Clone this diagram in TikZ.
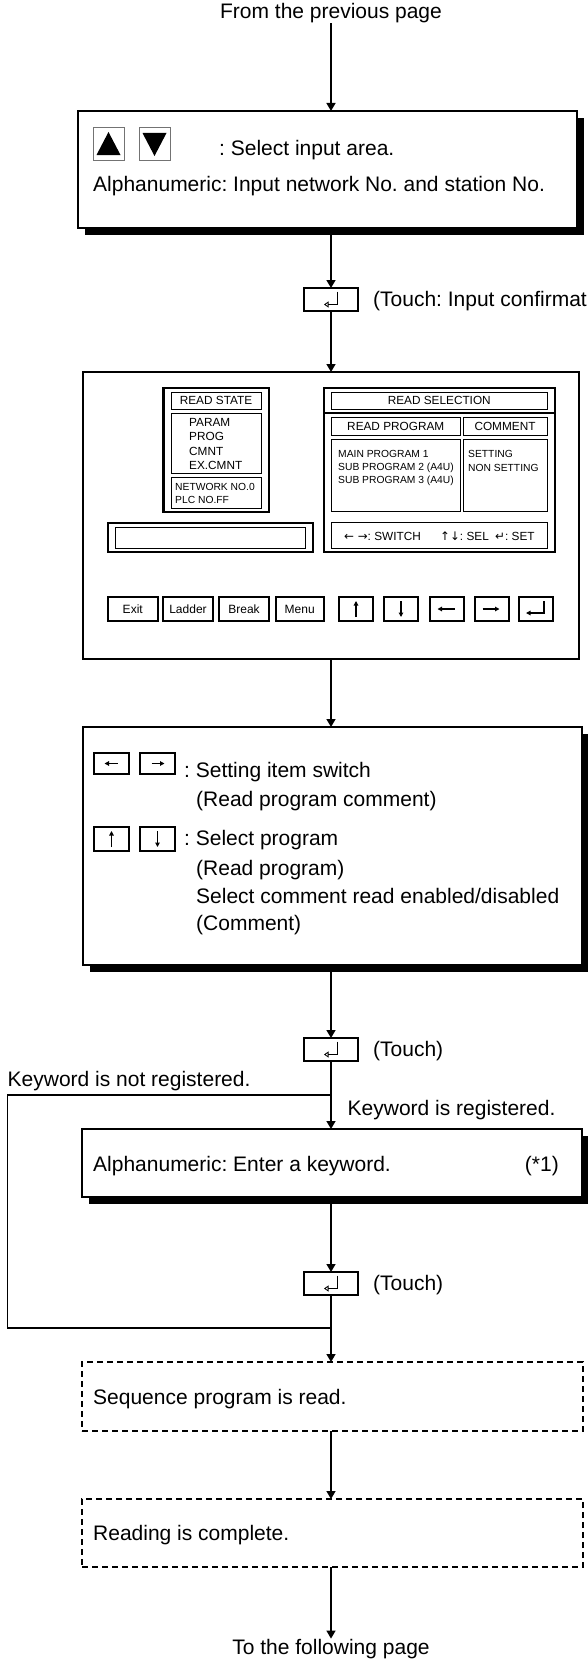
\documentclass[tikz,border=0pt]{standalone}
\usepackage{fontspec}
\setmainfont{Liberation Sans}
\newfontfamily\arrowfont{DejaVu Sans}
\usetikzlibrary{arrows.meta,positioning,shadows}
\frenchspacing

\newcommand{\bigtxt}{\fontsize{21}{25}\selectfont}
\newcommand{\hdtxt}{\fontsize{11.8}{14}\selectfont}
\newcommand{\smtxt}{\fontsize{10.3}{12.5}\selectfont}

\begin{document}
\begin{tikzpicture}[
  x=1pt, y=-1pt,
  >={Triangle[length=8pt,width=9pt]},
  flow/.style={draw, line width=1.3pt, fill=white, inner sep=0pt, outer sep=0pt,
    drop shadow={shadow xshift=7pt, shadow yshift=-7pt, fill=black, opacity=1}},
  dashbox/.style={draw, line width=1.3pt, dash pattern=on 6pt off 4pt, inner sep=0pt, outer sep=0pt},
  scrn/.style={draw, line width=1.5pt, inner sep=0pt, outer sep=0pt},
  thickbox/.style={draw, line width=2.2pt, inner sep=0pt, outer sep=0pt},
  thinbox/.style={draw, line width=0.7pt, inner sep=0pt, outer sep=0pt, font=\hdtxt},
  keybtn/.style={draw, line width=2pt, inner sep=0pt, outer sep=0pt, minimum height=24pt, font=\fontsize{12}{14}\selectfont},
  smallkey/.style={draw, line width=1.6pt, inner sep=0pt, outer sep=0pt, minimum width=35pt},
  trikey/.style={draw=black!55, line width=0.8pt, inner sep=0pt, outer sep=0pt, minimum width=31pt, minimum height=33pt},
  enterbtn/.style={draw, line width=1.2pt, minimum width=54pt, minimum height=23pt, inner sep=0pt, outer sep=0pt},
  enterglyph/.style={line width=0.9pt, -{Triangle[open,length=4.5pt,width=6pt,line width=0.8pt]}},
  txt/.style={anchor=base west, inner sep=0pt, font=\bigtxt},
  lbl/.style={anchor=base west, inner sep=0pt},
  flowline/.style={line width=1.5pt},
  keyarr/.style={line width=1.1pt, -{Triangle[length=4.5pt,width=4.5pt]}}
]
\useasboundingbox (0,0) rectangle (587,1659);

% input area selection
\node[font=\bigtxt, inner sep=0pt, anchor=base] (from) at (331,18.5) {From the previous page};
\node[flow, minimum width=499pt, minimum height=117pt] (sel) at (327.5,169.5) {};
\node[trikey] (tup) at (108.5,144) {};
\node[trikey, right=15pt of tup] (tdown) {};
\fill ([yshift=12pt]tup.center) -- ([xshift=12pt,yshift=-11pt]tup.center) -- ([xshift=-12pt,yshift=-11pt]tup.center) -- cycle;
\fill ([yshift=-12pt]tdown.center) -- ([xshift=12pt,yshift=11pt]tdown.center) -- ([xshift=-12pt,yshift=11pt]tdown.center) -- cycle;
\node[txt] (selk) at (219,155) {: Select input area.};
\node[txt] (selt) at (93,191) {Alphanumeric: Input network No. and station No.};

\node[enterbtn] (ent1) at (331,299.5) {};
\draw[enterglyph] ([xshift=6pt,yshift=8pt]ent1.center) -- ([xshift=6pt,yshift=-5pt]ent1.center) -- ([xshift=-7pt,yshift=-5pt]ent1.center);
\node[txt] (t1) at (373,306.5) {(Touch: Input confirmation)};

% screen
\node[scrn, minimum width=496pt, minimum height=287pt] (scr) at (331,515.5) {};
\node[thickbox, minimum width=105.5pt, minimum height=124pt] (rst) at (216.25,450) {};
\node[thinbox, minimum width=90pt, minimum height=17pt] (rsttl) at (216,400.5) {READ STATE};
\node[thinbox, minimum width=90pt, minimum height=60pt] (rslst) at (216,443) {};
\node[thinbox, minimum width=90pt, minimum height=31pt] (rsnet) at (216,492.5) {};
\foreach \t [count=\i] in {PARAM,PROG,CMNT,EX.CMNT}
  \node[lbl, font=\hdtxt] (rsi\i) at (189,411.5+14.5*\i) {\t};
\node[lbl, font=\smtxt] (net) at (175,490) {NETWORK NO.0};
\node[lbl, font=\smtxt] (plc) at (175,503) {PLC NO.FF};

\node[thickbox, minimum width=205pt, minimum height=29pt] (inp) at (210.5,537.5) {};
\node[thinbox, minimum width=189.5pt, minimum height=21pt] (inpi) at (210.25,537.5) {};

\node[scrn, minimum width=231pt, minimum height=164pt] (rsel) at (439.5,470) {};
\coordinate (rsline) at (0,413);
\draw[line width=1.2pt] (rsel.west |- rsline) -- (rsel.east |- rsline);
\node[thinbox, minimum width=215.5pt, minimum height=17pt] (rselttl) at (439.25,400.5) {READ SELECTION};
\node[thinbox, minimum width=128.5pt, minimum height=18pt] (rphd) at (395.75,426) {READ PROGRAM};
\node[thinbox, minimum width=84pt, minimum height=18pt] (cmhd) at (505,426) {COMMENT};
\node[thinbox, minimum width=128.5pt, minimum height=72pt] (rplst) at (395.75,475) {};
\node[thinbox, minimum width=84pt, minimum height=72pt] (cmlst) at (505,475) {};
\foreach \t [count=\i] in {MAIN PROGRAM 1,SUB PROGRAM 2 (A4U),SUB PROGRAM 3 (A4U)}
  \node[lbl, font=\smtxt] (rp\i) at (338,444+13*\i) {\t};
\node[lbl, font=\smtxt] (cm1) at (468,457) {SETTING};
\node[lbl, font=\smtxt] (cm2) at (468,471) {NON SETTING};
\node[thinbox, minimum width=215.5pt, minimum height=26pt] (rsft) at (439.25,535) {};
\node[lbl, font=\hdtxt] (ftsw) at (344,540) {{\arrowfont ← →}: SWITCH};
\node[lbl, font=\hdtxt] (ftsel) at (440,540) {{\arrowfont ↑↓}: SEL};
\node[lbl, font=\hdtxt] (ftset) at (495,540) {{\arrowfont ↵}: SET};

\node[keybtn, minimum width=49.5pt] (kexit) at (132.75,609) {Exit};
\node[keybtn, minimum width=50pt, right=5.5pt of kexit] (kladder) {Ladder};
\node[keybtn, minimum width=50pt, right=6pt of kladder] (kbreak) {Break};
\node[keybtn, minimum width=48.5pt, right=6.5pt of kbreak] (kmenu) {Menu};
\node[keybtn, minimum width=34pt, right=15pt of kmenu] (kup) {};
\node[keybtn, minimum width=34pt, right=11pt of kup] (kdown) {};
\node[keybtn, minimum width=34pt, right=11.5pt of kdown] (kleft) {};
\node[keybtn, minimum width=34pt, right=11pt of kleft] (kright) {};
\node[keybtn, minimum width=34pt, right=10.5pt of kright] (kenter) {};
\draw[keyarr] ([yshift=-8pt]kup.center) -- ([yshift=8pt]kup.center);
\draw[keyarr] ([yshift=8pt]kdown.center) -- ([yshift=-8pt]kdown.center);
\draw[keyarr] ([xshift=8pt]kleft.center) -- ([xshift=-9pt]kleft.center);
\draw[keyarr] ([xshift=-9pt]kright.center) -- ([xshift=8pt]kright.center);
\draw[keyarr, line width=1.6pt] ([xshift=8pt,yshift=8pt]kenter.center) -- ([xshift=8pt,yshift=-4pt]kenter.center) -- ([xshift=-10pt,yshift=-4pt]kenter.center);

% key explanation
\node[flow, minimum width=499pt, minimum height=238pt] (keys) at (332.5,846) {};
\node[smallkey, minimum height=21pt] (lkey) at (111.5,763.5) {};
\node[smallkey, minimum height=21pt, right=11pt of lkey] (rkey) {};
\node[smallkey, minimum height=24pt] (ukey) at (111.5,839) {};
\node[smallkey, minimum height=24pt, right=11pt of ukey] (dkey) {};
\draw[keyarr] ([xshift=6pt]lkey.center) -- ([xshift=-7pt]lkey.center);
\draw[keyarr] ([xshift=-6pt]rkey.center) -- ([xshift=7pt]rkey.center);
\draw[keyarr] ([yshift=-8pt]ukey.center) -- ([yshift=8pt]ukey.center);
\draw[keyarr] ([yshift=8pt]dkey.center) -- ([yshift=-8pt]dkey.center);
\node[txt] (sw1) at (184,777) {: Setting item switch};
\node[txt] (sw2) at (196,806) {(Read program comment)};
\node[txt] (sp1) at (184,845) {: Select program};
\node[txt] (sp2) at (196,875) {(Read program)};
\node[txt] (sp3) at (196,903) {Select comment read enabled/disabled};
\node[txt] (sp4) at (196,930) {(Comment)};

\node[enterbtn] (ent2) at (331,1049.5) {};
\draw[enterglyph] ([xshift=6pt,yshift=8pt]ent2.center) -- ([xshift=6pt,yshift=-5pt]ent2.center) -- ([xshift=-7pt,yshift=-5pt]ent2.center);
\node[txt] (t2) at (373,1056) {(Touch)};

% keyword
\coordinate (split) at (331,1095);
\coordinate (back) at (7.5,1095);
\coordinate (join) at (331,1328);
\node[txt] (nreg) at (7.5,1086) {Keyword is not registered.};
\node[txt] (reg) at (347.5,1115) {Keyword is registered.};
\node[flow, minimum width=500pt, minimum height=68pt] (kw) at (332,1163) {};
\node[txt] (kwt) at (93,1171) {Alphanumeric: Enter a keyword.};
\node[txt, anchor=base east] (kwn) at (559,1171) {(*1)};

\node[enterbtn] (ent3) at (331,1283.5) {};
\draw[enterglyph] ([xshift=6pt,yshift=8pt]ent3.center) -- ([xshift=6pt,yshift=-5pt]ent3.center) -- ([xshift=-7pt,yshift=-5pt]ent3.center);
\node[txt] (t3) at (373,1290) {(Touch)};

% reading
\node[dashbox, minimum width=501pt, minimum height=69pt] (rd) at (332.5,1396.5) {};
\node[txt] (rdt) at (93,1404) {Sequence program is read.};
\node[dashbox, minimum width=501pt, minimum height=68pt] (done) at (332.5,1533) {};
\node[txt] (donet) at (93,1540) {Reading is complete.};
\node[font=\bigtxt, inner sep=0pt, anchor=base] (to) at (331,1654) {To the following page};

\draw[flowline,->] (from) -- (from |- sel.north);
\draw[flowline,->] (sel.south -| ent1) -- (ent1.north);
\draw[flowline,->] (ent1) -- (ent1 |- scr.north);
\draw[flowline,->] (scr.south -| ent1) -- (keys.north -| ent1);
\draw[flowline,->] (keys.south -| ent2) -- (ent2.north);
\draw[flowline] (ent2) -- (split);
\draw[flowline,->] (split) -- (kw.north -| split);
\draw[flowline] (split) -- (back) |- (join);
\draw[flowline,->] (kw.south -| ent3) -- (ent3.north);
\draw[flowline,->] (ent3) -- (rd.north -| ent3);
\draw[flowline,->] (rd.south -| ent3) -- (done.north -| ent3);
\draw[flowline,->] (done.south -| ent3) -- (to);
\end{tikzpicture}
\end{document}
